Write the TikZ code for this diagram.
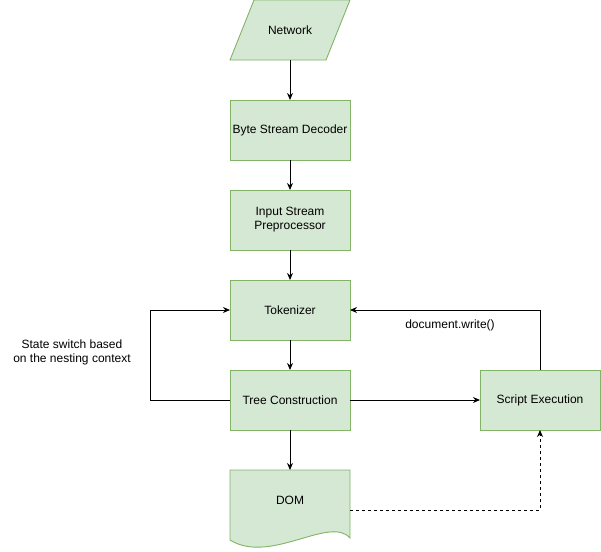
\documentclass[tikz,border=0pt]{standalone}
\usepackage{fontspec}
\setmainfont{Liberation Sans}
\usetikzlibrary{positioning, arrows.meta}

\definecolor{boxfill}{HTML}{D5E8D4}
\definecolor{boxline}{HTML}{82B366}

\begin{document}
\begin{tikzpicture}[
    x=1pt, y=1pt,
    font=\fontsize{12}{14}\selectfont,
    node distance=30pt,
    stagebox/.style={rectangle, draw=boxline, fill=boxfill, line width=0.9pt, minimum width=120pt, minimum height=60pt, align=center, inner sep=2pt, outer sep=0pt},
    plainbox/.style={rectangle, minimum width=120pt, minimum height=60pt, inner sep=0pt, outer sep=0pt},
    greenshape/.style={draw=boxline, fill=boxfill, line width=0.9pt},
    directed/.style={-{Stealth[length=7pt, width=6pt]}, line width=0.9pt},
    note/.style={align=center, inner sep=0pt}
]
\useasboundingbox (0,0) rectangle (601,-551);

% Nodes
\node[plainbox] (net) at (290,-30) {};
\draw[greenshape] ([xshift=24pt]net.north west) -- (net.north east) -- ([xshift=-24pt]net.south east) -- (net.south west) -- cycle;
\node at (net) {Network};
\node[stagebox, below=40pt of net] (bsd) {Byte Stream Decoder};
\node[stagebox, below=of bsd] (isp) {Input Stream\\Preprocessor};
\node[stagebox, below=of isp] (tok) {Tokenizer};
\node[stagebox, below=of tok] (tc) {Tree Construction};
\node[stagebox, right=130pt of tc] (se) {Script Execution};
\node[plainbox, below=40pt of tc] (dom) {};
\draw[greenshape] (dom.south west) -- (dom.north west) -- (dom.north east) -- ([yshift=-8pt]dom.south east)
    .. controls ([xshift=-20pt, yshift=15pt]dom.south east) and ([xshift=40pt, yshift=-35pt]dom.south west) .. ([yshift=-10pt]dom.south west) -- cycle;
\node at (dom) {DOM};

% Labels
\node[note] (switch) at (72,-352) {State switch based\\on the nesting context};
\node[note] (write) at (450,-325) {document.write()};

% Edges
\draw[directed] (net) -- (bsd);
\draw[directed] (bsd) -- (isp);
\draw[directed] (isp) -- (tok);
\draw[directed] (tok) -- (tc);
\draw[directed] (tc) -- (dom);
\draw[directed] (tc) -- (se);
\draw[directed] (tc.west) -- ++(-80pt,0) |- (tok.west);
\draw[directed] (se.north) |- (tok.east);
\draw[directed, dashed] ([yshift=-10pt]dom.east) -| (se.south);

\end{tikzpicture}
\end{document}
